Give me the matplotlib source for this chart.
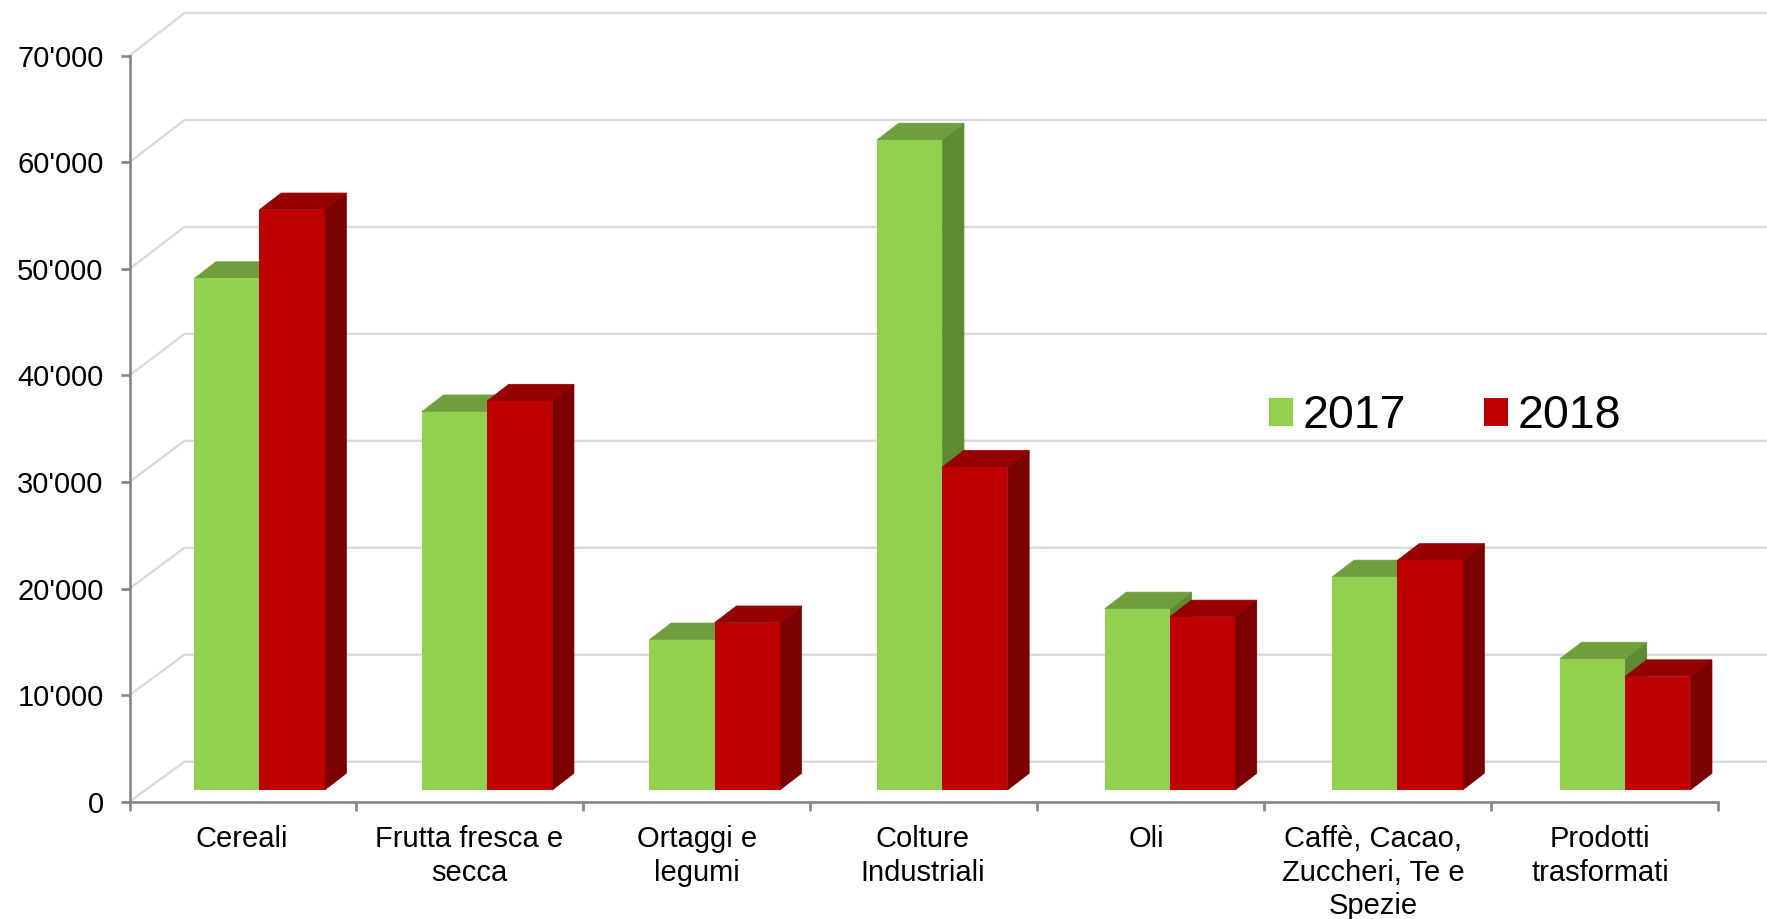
import matplotlib
matplotlib.use('Agg')
import matplotlib.pyplot as plt
from matplotlib.patches import Polygon

plt.rcParams['font.family'] = ['Liberation Sans', 'DejaVu Sans']

categories = ['Cereali', 'Frutta fresca e\nsecca', 'Ortaggi e\nlegumi', 'Colture\nIndustriali',
              'Oli', 'Caffè, Cacao,\nZuccheri, Te e\nSpezie', 'Prodotti\ntrasformati']
v2017 = [48000, 35500, 14100, 61000, 17000, 20000, 12300]
v2018 = [54450, 36500, 15700, 30300, 16250, 21550, 10650]
yticks = [0, 10000, 20000, 30000, 40000, 50000, 60000, 70000]

W, H = 1767, 919
L, R, T, B = 129.5, 1718, 55.7, 801.7   # front plane of the axes, in pixels

fig = plt.figure(figsize=(W / 100, H / 100), dpi=100)
ax = fig.add_axes([L / W, 1 - B / H, (R - L) / W, (B - T) / H])
ax.set_xlim(0, 7)
ax.set_ylim(0, 70000)

# pixels -> data units
px = 7 / (R - L)
py = 70000 / (B - T)

# floor offsets of the fake 3d box
wall_dx, wall_dy = 55 * px, 40 * py
wall_k = 748.7 / 746.0   # back wall is a hair taller than the front
base_dx, base_dy = 16.5 * px, 11.7 * py
depth_dx, depth_dy = 21.7 * px, 16.7 * py
bar_w = 65.2 * px
bar_step = 227.6 * px

GRID = '#d9d9d9'
AXIS = '#868686'

for v in yticks:
    ax.plot([0, wall_dx, 7.22], [v, v * wall_k + wall_dy, v * wall_k + wall_dy], color=GRID, lw=1.7,
            clip_on=False, zorder=1, solid_joinstyle='miter')


def draw_bar(x0, v, front, top, side, z):
    y0 = base_dy
    y1 = base_dy + v
    x1 = x0 + bar_w
    ax.add_patch(Polygon([(x1, y0), (x1 + depth_dx, y0 + depth_dy), (x1 + depth_dx, y1 + depth_dy), (x1, y1)],
                         fc=side, ec=side, lw=0.5, clip_on=False, zorder=z))
    ax.add_patch(Polygon([(x0, y1), (x0 + depth_dx, y1 + depth_dy), (x1 + depth_dx, y1 + depth_dy), (x1, y1)],
                         fc=top, ec=top, lw=0.5, clip_on=False, zorder=z))
    ax.bar(x0, v, bar_w, bottom=y0, align='edge', color=front, zorder=z + 0.5, clip_on=False)


z = 3
for i in range(len(categories)):
    c = 0.5 + base_dx + i * bar_step
    draw_bar(c - bar_w, v2017[i], '#92d050', '#6f9e3c', '#5f8a32', z)
    draw_bar(c, v2018[i], '#c00000', '#960000', '#7b0000', z + 1)
    z += 2

for s in ['top', 'right']:
    ax.spines[s].set_visible(False)
for s in ['left', 'bottom']:
    ax.spines[s].set_color(AXIS)
    ax.spines[s].set_linewidth(1.9)
    ax.spines[s].set_zorder(20)

ax.set_yticks(yticks)
ax.set_yticklabels([f"{v:,}".replace(',', "'") for v in yticks], fontsize=21)
ax.tick_params(axis='y', length=6.2, width=1.9, color=AXIS, pad=12.5)

ax.set_xticks(range(8))
ax.set_xticklabels([])
ax.tick_params(axis='x', which='major', length=6.2, width=1.9, color=AXIS)
label_shift = [-1, -1, 0, -1, -4.5, -4.5, -4.5]  # labels sit a little left of the slot centre
ax.set_xticks([i + 0.5 + s * px for i, s in enumerate(label_shift)], minor=True)
ax.set_xticklabels(categories, minor=True, fontsize=21, linespacing=1.25)
ax.tick_params(axis='x', which='minor', length=0, pad=17)

# legend
h1 = plt.Rectangle((0, 0), 1, 1, fc='#92d050', ec='none')
h2 = plt.Rectangle((0, 0), 1, 1, fc='#c00000', ec='none')
fig.legend([h1, h2], ['2017', '2018'], ncol=2, frameon=False, fontsize=33.5,
           handlelength=0.52, handleheight=0.52, handletextpad=0.2, columnspacing=1.67,
           borderpad=0, borderaxespad=0, loc='center left',
           bbox_to_anchor=(1269 / W, 1 - 416.5 / H), bbox_transform=fig.transFigure)

fig.savefig('out.png', dpi=100)
